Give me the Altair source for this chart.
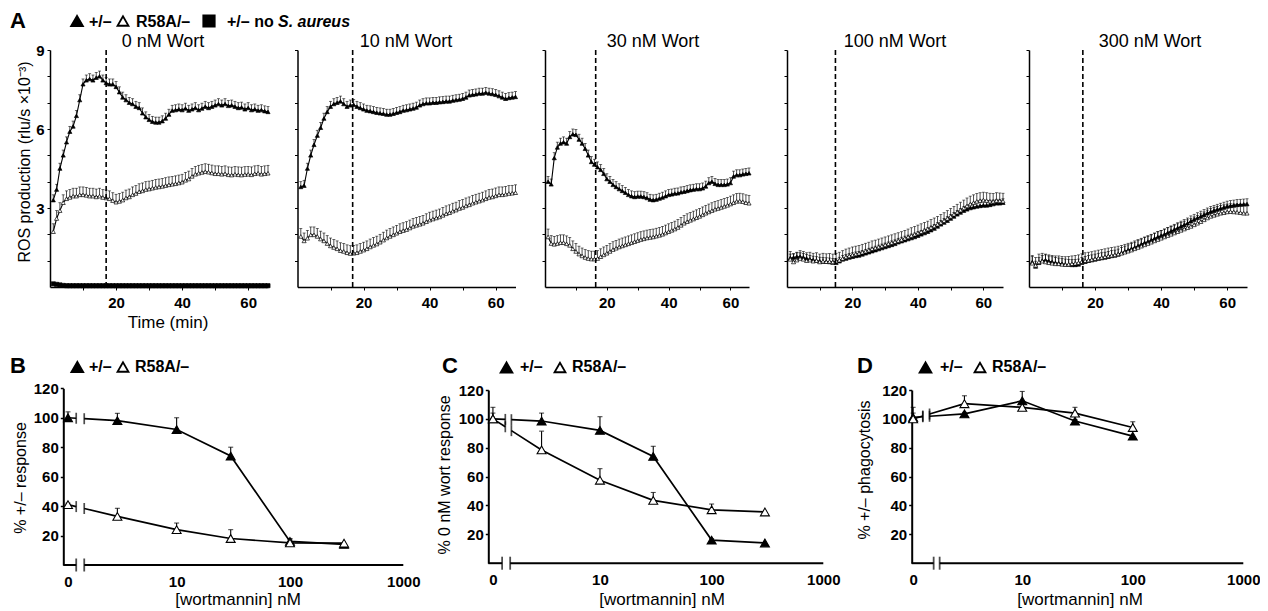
import math
import altair as alt
import pandas as pd

FONT = "Liberation Sans"
W, H = 1252, 600

# ---------------- Panel A data (ROS production, rlu/s x10^-3) ----------------
TIME_MIN = list(range(1, 67))
PANEL_TITLES = ["0 nM Wort", "10 nM Wort", "30 nM Wort", "100 nM Wort", "300 nM Wort"]
WORT_ADDED_MIN = [17.0, 16.7, 16.4, 14.8, 16.3]

HET_0 = [3.3, 3.7, 4.5, 5.0, 5.5, 5.9, 6.1, 6.5, 7.1, 7.7,
         7.85, 7.9, 7.85, 7.95, 8.0, 7.85, 7.75, 7.7, 7.7, 7.6,
         7.4, 7.2, 7.1, 7.0, 6.95, 6.85, 6.8, 6.6, 6.45, 6.35,
         6.28, 6.25, 6.25, 6.3, 6.4, 6.55, 6.7, 6.72, 6.75, 6.72,
         6.78, 6.7, 6.75, 6.8, 6.72, 6.78, 6.85, 6.8, 6.85, 6.9,
         6.95, 6.9, 6.95, 6.88, 6.9, 6.85, 6.8, 6.82, 6.75, 6.8,
         6.72, 6.75, 6.7, 6.72, 6.68, 6.65]
MUT_0 = [2.1, 2.6, 2.9, 3.2, 3.35, 3.4, 3.45, 3.45, 3.5, 3.5,
         3.48, 3.45, 3.45, 3.42, 3.45, 3.4, 3.38, 3.35, 3.28, 3.22,
         3.25, 3.3, 3.38, 3.42, 3.5, 3.55, 3.62, 3.65, 3.7, 3.72,
         3.75, 3.78, 3.8, 3.82, 3.85, 3.88, 3.9, 3.92, 3.95, 3.98,
         4.05, 4.1, 4.2, 4.28, 4.32, 4.35, 4.38, 4.36, 4.33, 4.3,
         4.3, 4.28, 4.3, 4.26, 4.25, 4.28, 4.26, 4.25, 4.27, 4.28,
         4.26, 4.3, 4.32, 4.28, 4.3, 4.32]
NO_SA_0 = [0.12, 0.1, 0.08, 0.06, 0.05, 0.05, 0.05, 0.05, 0.05, 0.05,
           0.05, 0.05, 0.05, 0.05, 0.05, 0.05, 0.05, 0.05, 0.05, 0.05,
           0.05, 0.05, 0.05, 0.05, 0.05, 0.05, 0.05, 0.05, 0.05, 0.05,
           0.05, 0.05, 0.05, 0.05, 0.05, 0.05, 0.05, 0.05, 0.05, 0.05,
           0.05, 0.05, 0.05, 0.05, 0.05, 0.05, 0.05, 0.05, 0.05, 0.05,
           0.05, 0.05, 0.05, 0.05, 0.05, 0.05, 0.05, 0.05, 0.05, 0.05,
           0.05, 0.05, 0.05, 0.05, 0.05, 0.05]
HET_10 = [3.8, 3.85, 4.5, 5.0, 5.4, 5.75, 6.05, 6.4, 6.65, 6.85,
          6.95, 7.0, 7.05, 6.95, 6.85, 6.9, 6.92, 6.85, 6.8, 6.75,
          6.7, 6.68, 6.65, 6.62, 6.6, 6.58, 6.55, 6.55, 6.58, 6.62,
          6.65, 6.7, 6.72, 6.75, 6.78, 6.82, 6.9, 6.95, 6.98, 6.98,
          7.0, 7.0, 7.02, 7.03, 7.05, 7.05, 7.08, 7.1, 7.12, 7.15,
          7.2, 7.28, 7.3, 7.32, 7.35, 7.35, 7.38, 7.35, 7.33, 7.3,
          7.25, 7.2, 7.15, 7.18, 7.2, 7.22]
MUT_10 = [1.92, 1.75, 1.85, 1.98, 1.98, 1.92, 1.82, 1.75, 1.65, 1.56,
          1.5, 1.45, 1.38, 1.35, 1.3, 1.27, 1.28, 1.3, 1.35, 1.4,
          1.45, 1.52, 1.58, 1.63, 1.7, 1.78, 1.86, 1.92, 1.98, 2.04,
          2.1, 2.14, 2.18, 2.24, 2.3, 2.34, 2.38, 2.42, 2.48, 2.54,
          2.58, 2.62, 2.66, 2.72, 2.78, 2.82, 2.88, 2.92, 2.98, 3.02,
          3.08, 3.12, 3.18, 3.22, 3.26, 3.3, 3.35, 3.4, 3.42, 3.46,
          3.5, 3.5, 3.52, 3.55, 3.56, 3.58]
HET_30 = [4.0, 3.9, 4.9, 5.3, 5.45, 5.5, 5.45, 5.7, 5.8, 5.78,
          5.6, 5.45, 5.25, 5.0, 4.75, 4.65, 4.55, 4.45, 4.3, 4.1,
          4.0, 3.88, 3.8, 3.72, 3.65, 3.58, 3.5, 3.45, 3.42, 3.44,
          3.44, 3.42, 3.38, 3.32, 3.3, 3.32, 3.36, 3.4, 3.45, 3.5,
          3.52, 3.55, 3.56, 3.6, 3.62, 3.65, 3.68, 3.7, 3.72, 3.72,
          3.75, 3.82, 3.95, 4.0, 3.92, 3.88, 3.88, 3.88, 3.9, 3.95,
          4.2, 4.25, 4.25, 4.28, 4.3, 4.32]
MUT_30 = [1.9, 1.65, 1.62, 1.65, 1.68, 1.68, 1.64, 1.58, 1.45, 1.35,
          1.25, 1.18, 1.12, 1.08, 1.06, 1.06, 1.08, 1.15, 1.22, 1.28,
          1.35, 1.42, 1.47, 1.52, 1.56, 1.6, 1.64, 1.68, 1.72, 1.76,
          1.8, 1.83, 1.86, 1.88, 1.9, 1.93, 1.96, 2.0, 2.05, 2.1,
          2.15, 2.2, 2.26, 2.34, 2.42, 2.48, 2.53, 2.58, 2.63, 2.68,
          2.74, 2.8, 2.85, 2.9, 2.95, 2.98, 3.02, 3.06, 3.1, 3.15,
          3.2, 3.25, 3.26, 3.24, 3.2, 3.18]
HET_100 = [1.1, 1.12, 1.15, 1.15, 1.12, 1.08, 1.05, 1.02, 1.0, 0.98,
           0.97, 0.96, 0.95, 0.93, 0.92, 0.98, 1.05, 1.08, 1.12, 1.15,
           1.18, 1.2, 1.24, 1.28, 1.32, 1.36, 1.4, 1.44, 1.48, 1.52,
           1.56, 1.6, 1.64, 1.7, 1.74, 1.78, 1.82, 1.86, 1.9, 1.95,
           2.0, 2.05, 2.1, 2.16, 2.22, 2.3, 2.38, 2.45, 2.52, 2.6,
           2.68, 2.76, 2.83, 2.9, 2.95, 3.0, 3.03, 3.06, 3.08, 3.1,
           3.1, 3.12, 3.15, 3.18, 3.18, 3.2]
MUT_100 = [1.05, 0.95, 1.02, 1.08, 1.05, 1.0, 1.02, 0.98, 1.0, 0.95,
           0.98, 0.96, 0.97, 0.95, 0.98, 1.02, 1.08, 1.14, 1.18, 1.22,
           1.25, 1.28, 1.32, 1.36, 1.4, 1.45, 1.48, 1.52, 1.56, 1.6,
           1.64, 1.68, 1.72, 1.76, 1.8, 1.85, 1.9, 1.95, 2.0, 2.05,
           2.1, 2.15, 2.2, 2.26, 2.32, 2.38, 2.45, 2.52, 2.6, 2.68,
           2.76, 2.84, 2.92, 3.0, 3.08, 3.15, 3.2, 3.25, 3.28, 3.3,
           3.28, 3.26, 3.25, 3.28, 3.27, 3.26]
HET_300 = [0.95, 0.78, 0.92, 1.0, 1.02, 0.98, 0.95, 0.92, 0.9, 0.88,
           0.86, 0.85, 0.84, 0.84, 0.86, 0.92, 0.96, 1.0, 1.02, 1.05,
           1.08, 1.1, 1.12, 1.15, 1.18, 1.2, 1.24, 1.3, 1.35, 1.4,
           1.45, 1.5, 1.56, 1.62, 1.68, 1.72, 1.78, 1.84, 1.9, 1.95,
           2.0, 2.06, 2.12, 2.18, 2.24, 2.3, 2.36, 2.42, 2.5, 2.56,
           2.62, 2.68, 2.74, 2.8, 2.86, 2.9, 2.94, 2.98, 3.02, 3.06,
           3.08, 3.1, 3.12, 3.13, 3.14, 3.15]
MUT_300 = [0.9, 0.82, 0.95, 0.98, 0.95, 0.92, 0.9, 0.88, 0.88, 0.86,
           0.85, 0.86, 0.88, 0.9, 0.92, 0.96, 1.0, 1.02, 1.04, 1.07,
           1.1, 1.12, 1.15, 1.18, 1.2, 1.22, 1.25, 1.28, 1.32, 1.36,
           1.4, 1.45, 1.5, 1.55, 1.6, 1.65, 1.7, 1.75, 1.8, 1.85,
           1.9, 1.95, 2.0, 2.05, 2.1, 2.15, 2.2, 2.25, 2.3, 2.36,
           2.42, 2.48, 2.55, 2.62, 2.68, 2.72, 2.76, 2.8, 2.82, 2.85,
           2.86, 2.85, 2.84, 2.82, 2.8, 2.8]
HET_SERIES = [HET_0, HET_10, HET_30, HET_100, HET_300]
MUT_SERIES = [MUT_0, MUT_10, MUT_30, MUT_100, MUT_300]
HET_SEM = [0.2, 0.2, 0.2, 0.15, 0.2]
MUT_SEM = [0.3, 0.3, 0.3, 0.3, 0.3]
NO_SA_SEM = 0.04

# ---------------- Panels B-D data ----------------
DOSE_NM = [0, 3, 10, 30, 100, 300]
B_HET = [100, 98, 92, 74, 16, 14]
B_HET_HI = [104, 103, 100, 80, 17.5, 14.5]
B_MUT = [41, 33, 24, 18, 15, 14.8]
B_MUT_HI = [42, 38.5, 28.5, 24, 18, 15.3]

C_HET = [100, 98.5, 92, 74, 16, 14]
C_HET_HI = [104, 104, 101.5, 81, 17, 14.5]
C_MUT = [100, 78.5, 57.5, 43.5, 37, 35.5]
C_MUT_HI = [108, 91.5, 65.5, 49, 41, 36]

D_DOSE_NM = [0, 3, 10, 30, 100]
D_HET = [101, 103.5, 112.5, 98.5, 88]
D_HET_HI = [104, 104.5, 119, 99.5, 88.5]
D_MUT = [100, 110.5, 108, 104, 94]
D_MUT_HI = [108, 116, 110, 108, 98]

# ---------------- layout (pixel boxes of the plot areas) ----------------
ROW1_X = [(42, 260), (289.5, 507.5), (537, 741), (779, 995), (1021, 1239)]
ROW1_Y = (279, 42)          # bottom, top
TITLE_CX = [155, 398, 645, 887, 1142]


def txt(s, x, y, size=15, weight="normal", style="normal", angle=0, align="left", baseline="alphabetic"):
    return alt.Chart(pd.DataFrame({"s": [s]})).mark_text(
        font=FONT, fontSize=size, fontWeight=weight, fontStyle=style, angle=angle,
        align=align, baseline=baseline, color="black"
    ).encode(text="s:N", x=alt.value(x), y=alt.value(y))


def sym(shape, x, y, size, fill):
    return alt.Chart(pd.DataFrame({"s": [0]})).mark_point(
        shape=shape, size=size, filled=True, fill=fill, stroke="black", strokeWidth=1.8, opacity=1
    ).encode(x=alt.value(x), y=alt.value(y))


def ros_panel(i):
    x0, x1 = ROW1_X[i]
    yb, yt = ROW1_Y
    first = i == 0
    rows = []
    for g, vals, sem in (("het", HET_SERIES[i], HET_SEM[i]), ("mut", MUT_SERIES[i], MUT_SEM[i])):
        for t, v in zip(TIME_MIN, vals):
            rows.append({"t": t, "v": v, "hi": v + sem, "g": g})
    if first:
        for t, v in zip(TIME_MIN, NO_SA_0):
            rows.append({"t": t, "v": v, "hi": v + NO_SA_SEM, "g": "nosa"})
    df = pd.DataFrame(rows)
    xs = alt.Scale(domain=[0, 66], nice=False, zero=False, range=[x0, x1])
    ys = alt.Scale(domain=[0, 9], nice=False, zero=False, range=[yb, yt])
    xax = alt.Axis(values=[10, 20, 30, 40, 50, 60], orient="bottom", offset=yb - H,
                   labelExpr="datum.value % 20 == 0 ? datum.label : ''",
                   title=None, labelPadding=5, labelFlush=False, labelOverlap=False)
    yax = alt.Axis(values=[1, 2, 3, 4, 5, 6, 7, 8, 9], orient="left", offset=-x0,
                   labelExpr="datum.value % 3 == 0 ? datum.label : ''",
                   labels=first, title=None, labelPadding=3, labelOverlap=False)
    X = alt.X("t:Q", scale=xs, axis=xax)
    Y = alt.Y("v:Q", scale=ys, axis=yax)
    base = alt.Chart(df).encode(x=X, y=Y)
    line = base.mark_line(color="black", strokeWidth=1.1).encode(detail="g:N")
    err = base.mark_rule(color="black", strokeWidth=0.7).encode(y2="hi:Q")
    cap = base.mark_tick(orient="horizontal", size=3, thickness=0.8, color="black").encode(
        y=alt.Y("hi:Q", scale=ys, axis=yax))
    pts = base.mark_point(size=17, filled=True, stroke="black", strokeWidth=0.7, opacity=1).encode(
        fill=alt.Fill("g:N", scale=alt.Scale(domain=["het", "mut", "nosa"], range=["black", "white", "black"]), legend=None),
        shape=alt.Shape("g:N", scale=alt.Scale(domain=["het", "mut", "nosa"], range=["triangle-up", "triangle-up", "square"]), legend=None),
    )
    dash = alt.Chart(pd.DataFrame({"t": [WORT_ADDED_MIN[i]], "top": [9], "bot": [0]})).mark_rule(
        color="black", strokeDash=[5, 3], strokeWidth=1.6).encode(
        x=X, y=alt.Y("top:Q", scale=ys, axis=yax), y2="bot:Q")
    return alt.layer(line, err, cap, pts, dash)


def interp_log(xq, x0, y0, x1, y1):
    f = (math.log(xq) - math.log(x0)) / (math.log(x1) - math.log(x0))
    return y0 + f * (y1 - y0)


def dose_panel(conc, het, het_hi, mut, mut_hi, box, zero, lbrk, abrk):
    x0, x1, yb, yt = box
    pos = [zero if c == 0 else c for c in conc]
    xs = alt.Scale(type="log", domain=[1, 1000], nice=False, range=[x0, x1])
    ys = alt.Scale(domain=[0, 120], nice=False, zero=False, range=[yb, yt])
    xax = alt.Axis(values=[zero, 10, 100, 1000], orient="bottom", offset=yb - H,
                   labelExpr="datum.value < 2 ? '0' : format(datum.value, 'd')",
                   ticks=False, domain=False, labelPadding=9, title=None,
                   labelFlush=False, labelOverlap=False)
    yax = alt.Axis(values=[20, 40, 60, 80, 100, 120], orient="left", offset=-x0, title=None,
                   domainWidth=2, tickWidth=1.5, labelPadding=2, labelOverlap=False)

    pts, segs, brks, errs = [], [], [], []
    for g, vals, his in (("het", het, het_hi), ("mut", mut, mut_hi)):
        ya = interp_log(lbrk[0], pos[0], vals[0], pos[1], vals[1])
        yb2 = interp_log(lbrk[1], pos[0], vals[0], pos[1], vals[1])
        segs += [{"x": pos[0], "y": vals[0], "k": g + "a"}, {"x": lbrk[0], "y": ya, "k": g + "a"},
                 {"x": lbrk[1], "y": yb2, "k": g + "b"}]
        segs += [{"x": p, "y": v, "k": g + "b"} for p, v in zip(pos[1:], vals[1:])]
        brks += [{"x": lbrk[0], "y": ya}, {"x": lbrk[1], "y": yb2}]
        for p, v, hi in zip(pos, vals, his):
            pts.append({"x": p, "y": v, "g": g})
            if hi - v > 0.6:
                errs.append({"x": p, "y": v, "hi": hi})

    X = alt.X("x:Q", scale=xs, axis=xax)
    Y = alt.Y("y:Q", scale=ys, axis=yax)
    axis_line = alt.Chart(pd.DataFrame({"x": [1, abrk[1]], "x2": [abrk[0], 1000], "y": [0, 0]})).mark_rule(
        color="black", strokeWidth=2).encode(x=X, x2="x2:Q", y=Y)
    axis_brk = alt.Chart(pd.DataFrame({"x": list(abrk), "y": [0, 0]})).mark_tick(
        orient="vertical", size=13, thickness=1.8, color="black").encode(x=X, y=Y)
    line = alt.Chart(pd.DataFrame(segs)).mark_line(color="black", strokeWidth=1.7).encode(
        x=X, y=Y, detail="k:N")
    brk = alt.Chart(pd.DataFrame(brks)).mark_tick(orient="vertical", size=11, thickness=1.7,
                                                  color="black").encode(x=X, y=Y)
    edf = pd.DataFrame(errs)
    err = alt.Chart(edf).mark_rule(color="black", strokeWidth=1.1).encode(x=X, y=Y, y2="hi:Q")
    cap = alt.Chart(edf).mark_tick(orient="horizontal", size=5, thickness=1.1, color="black").encode(
        x=X, y=alt.Y("hi:Q", scale=ys, axis=yax))
    pnt = alt.Chart(pd.DataFrame(pts)).mark_point(shape="triangle-up", size=80, filled=True,
                                                  stroke="black", strokeWidth=1.1, opacity=1).encode(
        x=X, y=Y,
        fill=alt.Fill("g:N", scale=alt.Scale(domain=["het", "mut"], range=["black", "white"]), legend=None))
    return alt.layer(axis_line, axis_brk, line, brk, err, cap, pnt)


def legend_pair(letter, lx, ty, tri1x, t1x, tri2x, t2x, cy):
    return [txt(letter, lx, ty, size=22, weight="bold"),
            sym("triangle-up", tri1x, cy, 140, "black"),
            txt("+/–", t1x, ty - 1, size=16, weight="bold"),
            sym("triangle-up", tri2x, cy, 120, "white"),
            txt("R58A/–", t2x, ty - 1, size=16, weight="bold")]


panels = [ros_panel(i) for i in range(5)]
panels += [
    dose_panel(DOSE_NM, B_HET, B_HET_HI, B_MUT, B_MUT_HI, (55.3, 395.3, 557, 380.3), 1.1, (1.3, 1.53), (1.3, 1.53)),
    dose_panel(DOSE_NM, C_HET, C_HET_HI, C_MUT, C_MUT_HI, (480.3, 815.3, 555.2, 382), 1.1, (1.42, 1.61), (1.33, 1.57)),
    dose_panel(D_DOSE_NM, D_HET, D_HET_HI, D_MUT, D_MUT_HI, (903.7, 1235.3, 555.2, 382), 1.03, (1.26, 1.45), (1.58, 1.79)),
]

texts = [txt(t, cx, 39, size=18, align="center") for t, cx in zip(PANEL_TITLES, TITLE_CX)]
texts += [
    txt("A", 2, 20, size=22, weight="bold"),
    sym("triangle-up", 69, 13, 140, "black"),
    txt("+/–", 81, 19, size=16, weight="bold"),
    sym("triangle-up", 115, 13, 120, "white"),
    txt("R58A/–", 128, 19, size=16, weight="bold"),
    sym("square", 201, 13, 130, "black"),
    txt("+/– no", 219, 19, size=16, weight="bold"),
    txt("S. aureus", 270, 19, size=16, weight="bold", style="italic"),
    txt("ROS production (rlu/s ×10⁻³)", 17, 154, size=16, angle=270, align="center", baseline="middle"),
    txt("Time  (min)", 160, 320, size=17, align="center"),
    txt("% +/–  response", 13, 470, size=16, angle=270, align="center", baseline="middle"),
    txt("% 0 nM  wort response", 437, 467, size=16, angle=270, align="center", baseline="middle"),
    txt("% +/–  phagocytosis", 857, 462, size=16, angle=270, align="center", baseline="middle"),
    txt("[wortmannin] nM", 230, 597, size=17, align="center"),
    txt("[wortmannin] nM", 654, 597, size=17, align="center"),
    txt("[wortmannin] nM", 1072, 597, size=17, align="center"),
]
texts += legend_pair("B", 2, 365, 69.3, 81, 115, 127, 359)
texts += legend_pair("C", 434, 365, 498.5, 512, 552, 564, 359.5)
texts += legend_pair("D", 849, 365, 917.5, 932, 972, 984, 359.5)

chart = alt.layer(*panels, *texts).resolve_scale(
    x="independent", y="independent"
).resolve_axis(
    x="independent", y="independent"
).properties(
    width=W, height=H, padding=0, autosize=alt.AutoSizeParams(type="none")
).configure_view(stroke=None).configure_axis(
    labelFont=FONT, labelFontSize=15, labelFontWeight="bold", labelColor="black",
    domainColor="black", tickColor="black", domainWidth=1.5, tickWidth=1, tickSize=3, grid=False
)

chart.save("out.html", embed_options={"renderer": "svg", "actions": False})
